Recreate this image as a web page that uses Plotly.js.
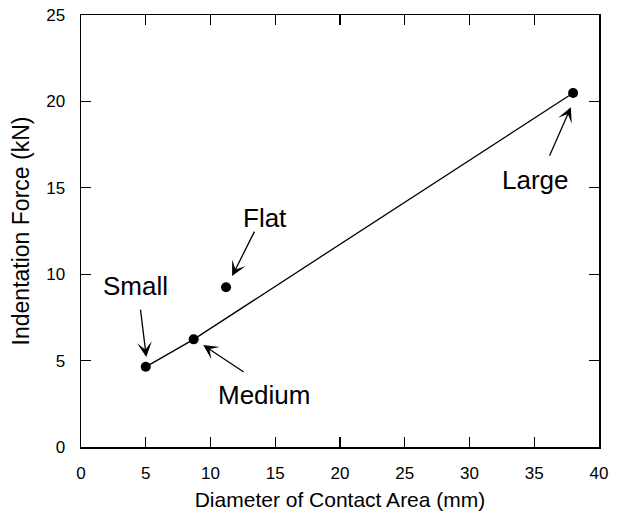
<!DOCTYPE html>
<html><head><meta charset="utf-8">
<script src="https://cdn.plot.ly/plotly-3.0.1.min.js"></script>
<style>body{margin:0;padding:0;background:#fff}#chart{width:618px;height:515px}</style>
</head><body><div id="chart"></div>
<script>
const labels = ["Small", "Medium", "Flat", "Large"];
const diameter = [5.0, 8.7, 11.2, 38.0];
const force = [4.64, 6.23, 9.24, 20.49];
const lineX = [5.0, 8.7, 38.0];
const lineY = [4.64, 6.23, 20.49];
// annotation text positions and arrow tails/heads (data units)
const textPos = {Small:[4.2,9.31], Medium:[14.16,3.01], Flat:[14.22,13.24], Large:[35.13,15.44]};
const arrowTail = {Small:[4.58,8.04], Medium:[12.68,4.28], Flat:[13.45,12.55], Large:[36.13,16.77]};
const arrowHead = {Small:[5.04,5.21], Medium:[9.44,5.9], Flat:[11.67,9.89], Large:[37.83,19.66]};

const font = "Liberation Sans, Arial, Helvetica, sans-serif";
const annotations = [];
labels.forEach(l => {
  annotations.push({x:textPos[l][0], y:textPos[l][1], xref:'x', yref:'y', text:l, showarrow:false,
    font:{family:font, size:26, color:'#000'}});
  annotations.push({x:arrowHead[l][0], y:arrowHead[l][1], xref:'x', yref:'y',
    ax:arrowTail[l][0], ay:arrowTail[l][1], axref:'x', ayref:'y', text:'', showarrow:true,
    arrowhead:3, arrowsize:1.9, arrowwidth:1.3, arrowcolor:'#000'});
});

const data = [
  {x:lineX, y:lineY, mode:'lines', line:{color:'#000', width:1.3}, hoverinfo:'skip', showlegend:false},
  {x:diameter, y:force, mode:'markers', marker:{color:'#000', size:10}, showlegend:false}
];
const axisCommon = {showline:true, mirror:'ticks', linecolor:'#000', linewidth:1.5, ticks:'inside',
  ticklen:10, tickwidth:1.2, tickcolor:'#000', showgrid:false, zeroline:false,
  tickfont:{family:font, size:17, color:'#000'}};
const layout = {
  width:618, height:515, margin:{l:81, r:19, t:15, b:68},
  paper_bgcolor:'#fff', plot_bgcolor:'#fff',
  xaxis:Object.assign({}, axisCommon, {range:[0,40], dtick:5, ticklabelstandoff:10,
    title:{text:'Diameter of Contact Area (mm)', font:{family:font, size:21, color:'#000'}, standoff:10}}),
  yaxis:Object.assign({}, axisCommon, {range:[0,25], dtick:5, ticklabelstandoff:11,
    title:{text:'Indentation Force (kN)', font:{family:font, size:23, color:'#000'}, standoff:10}}),
  annotations: annotations
};
Plotly.newPlot('chart', data, layout, {displayModeBar:false, staticPlot:true});
</script></body></html>
